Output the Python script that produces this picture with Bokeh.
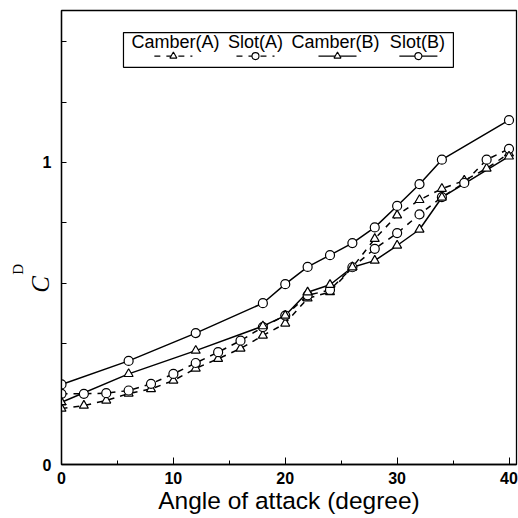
from bokeh.plotting import figure
from bokeh.models import Range1d, FixedTicker, Label, BoxAnnotation, LinearAxis
from bokeh.embed import file_html
from bokeh.resources import INLINE

# ---- data ----
angle_a = [0, 2, 4, 6, 8, 10, 12, 14, 16, 18, 20, 22, 24, 26, 28, 30, 32, 34, 36, 38, 40]
camber_a = [0.185, 0.195, 0.212, 0.235, 0.250, 0.278, 0.318, 0.350, 0.384, 0.427, 0.467,
            0.550, 0.571, 0.653, 0.747, 0.825, 0.876, 0.913, 0.940, 0.980, 1.030]
slot_a = [0.234, 0.234, 0.236, 0.245, 0.267, 0.300, 0.336, 0.372, 0.410, 0.455, 0.493,
          0.560, 0.578, 0.653, 0.714, 0.766, 0.828, 0.885, 0.932, 1.009, 1.045]
angle_b = [0, 6, 12, 18, 20, 22, 24, 26, 28, 30, 32, 34, 40]
camber_b = [0.206, 0.300, 0.377, 0.458, 0.493, 0.570, 0.595, 0.653, 0.675, 0.725, 0.778, 0.884, 1.020]
slot_b = [0.265, 0.343, 0.435, 0.534, 0.597, 0.654, 0.693, 0.733, 0.785, 0.856, 0.928, 1.009, 1.140]

series_names = ["Camber(A)", "Slot(A)", "Camber(B)", "Slot(B)"]
x_ticks = [0, 10, 20, 30, 40]
x_minor = [5, 15, 25, 35]
y_ticks = [0, 0.2, 0.4, 0.6, 0.8, 1.0, 1.2, 1.4]
y_labels = {0: "0", 1: "1"}
x_title = "Angle of attack (degree)"

SANS = "Liberation Sans"
SERIF = "Liberation Serif"
NB = "\u00a0"

p = figure(width=518, height=518, output_backend="svg", toolbar_location=None,
           x_range=Range1d(0, 40.67), y_range=Range1d(0, 1.503),
           min_border_left=61, min_border_right=2, min_border_top=10, min_border_bottom=54)
p.background_fill_color = "white"
p.border_fill_color = "white"
p.outline_line_color = "black"
p.outline_line_width = 1.3
p.xgrid.visible = False
p.ygrid.visible = False

# axes
p.xaxis.ticker = FixedTicker(ticks=x_ticks, minor_ticks=x_minor)
p.yaxis.ticker = FixedTicker(ticks=y_ticks, minor_ticks=[])
p.yaxis.major_label_overrides = {t: y_labels.get(round(t, 3), "") for t in y_ticks}
for ax in (p.xaxis, p.yaxis):
    ax.axis_line_color = "black"
    ax.axis_line_width = 1.3
    ax.major_tick_in = 7
    ax.major_tick_out = 0
    ax.minor_tick_in = 4
    ax.minor_tick_out = 0
    ax.major_tick_line_color = "black"
    ax.minor_tick_line_color = "black"
    ax.major_label_text_font = SANS
    ax.major_label_text_font_style = "bold"
    ax.major_label_text_font_size = "16px"
    ax.major_label_text_color = "black"
p.yaxis.major_tick_in = 5
p.xaxis.major_label_standoff = 7
p.yaxis.major_label_standoff = 10
p.xaxis.axis_label = x_title
p.xaxis.axis_label_text_font = SANS
p.xaxis.axis_label_text_font_style = "normal"
p.xaxis.axis_label_text_font_size = "24.5px"
p.xaxis.axis_label_standoff = 0
p.xaxis.axis_label_text_color = "black"

# y label C_D : subscript "D" on the inner axis, "C" on an outer label-only axis
p.yaxis.axis_label = "D" + NB * 17
p.yaxis.axis_label_text_font = SERIF
p.yaxis.axis_label_text_font_style = "normal"
p.yaxis.axis_label_text_font_size = "15px"
p.yaxis.axis_label_text_color = "black"
p.yaxis.axis_label_standoff = 14

c_axis = LinearAxis(ticker=FixedTicker(ticks=[]), axis_line_color=None,
                    major_tick_line_color=None, minor_tick_line_color=None,
                    major_label_text_font_size="0px",
                    axis_label="C" + NB * 15, axis_label_text_font=SERIF,
                    axis_label_text_font_size="25px", axis_label_text_color="black",
                    axis_label_standoff=-47)
p.add_layout(c_axis, "left")

# data
styles = [
    (angle_a, camber_a, "dashed", "triangle"),
    (angle_a, slot_a, "dashed", "circle"),
    (angle_b, camber_b, "solid", "triangle"),
    (angle_b, slot_b, "solid", "circle"),
]
for xs, ys, dash, marker in styles:
    p.line(xs, ys, line_color="black", line_width=1.5, line_dash=dash)
for xs, ys, dash, marker in styles:
    p.scatter(xs, ys, marker=marker, size=9, line_color="black", line_width=1.2,
              fill_color="white")

# legend (label above line sample)
p.add_layout(BoxAnnotation(left=5.54, right=35.03, bottom=1.315, top=1.430,
                           fill_color="white", fill_alpha=1, line_color="black",
                           line_width=1.2, line_alpha=1, level="underlay"))
label_x = [10.19, 17.34, 24.49, 31.81]
sample_x = [10.0, 17.34, 24.67, 31.9]
for name, lx, sx, (xs, ys, dash, marker) in zip(series_names, label_x, sample_x, styles):
    p.add_layout(Label(x=lx, y=1.398, text=name, text_align="center", text_baseline="middle",
                       text_font=SANS, text_font_size="18px", text_color="black"))
    p.line([sx - 1.7, sx + 1.7], [1.352, 1.352], line_color="black", line_width=1.3,
           line_dash=dash)
    p.scatter([sx], [1.352], marker=marker, size=7, line_color="black", line_width=1.1,
              fill_color="white")

open("out.html", "w").write(file_html(p, INLINE))
